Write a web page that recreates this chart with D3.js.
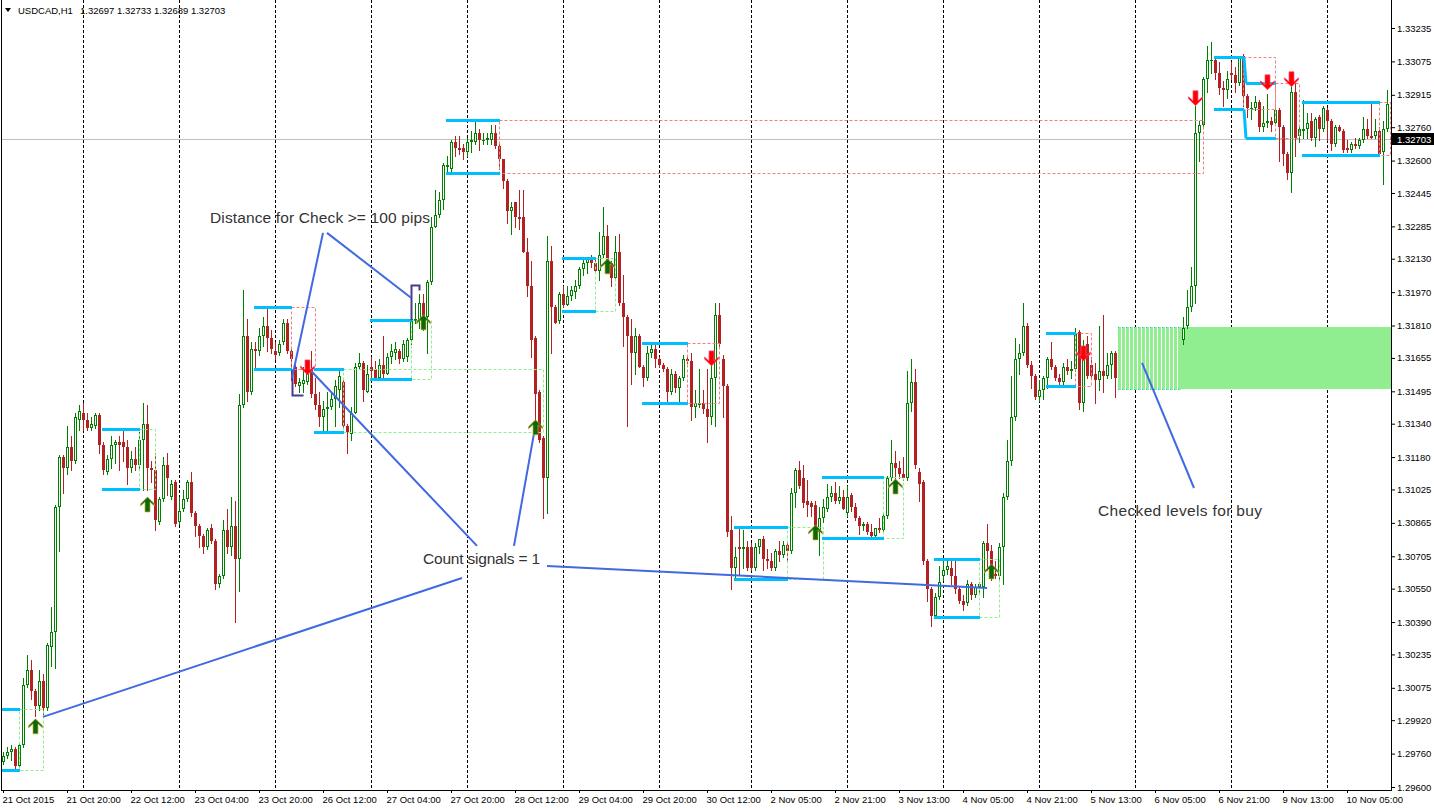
<!DOCTYPE html>
<html><head><meta charset="utf-8">
<script src="https://cdn.jsdelivr.net/npm/d3@7"></script>
<style>
html,body{margin:0;padding:0;background:#fff;}
svg{display:block;}
text{font-family:"Liberation Sans",Arial,sans-serif;}
</style></head><body>
<svg id="chart" width="1434" height="808"></svg>
<script>
// ---------------- DATA ----------------
const symbolTitle = "USDCAD,H1";
const lastQuote = [1.32697, 1.32733, 1.32689, 1.32703]; // O H L C of the current bar
// hourly candles [open, high, low, close], bar 0 = 21 Oct 2015 04:00
const ohlc = [
[1.2972,1.2977,1.2971,1.2975],[1.2975,1.2979,1.2974,1.2977],[1.2977,1.2980,1.2973,1.2978],[1.2978,1.2979,1.2969,1.2970],
[1.2970,1.2981,1.2969,1.2980],[1.2980,1.3012,1.2979,1.3009],[1.3009,1.3023,1.3008,1.3016],[1.3016,1.3021,1.3002,1.3006],
[1.3006,1.3007,1.2994,1.2999],[1.2999,1.3016,1.2997,1.3011],[1.3011,1.3014,1.2995,1.2998],[1.2998,1.3029,1.2997,1.3028],
[1.3027,1.3046,1.3018,1.3034],[1.3034,1.3095,1.3017,1.3094],[1.3094,1.3119,1.3073,1.3118],[1.3118,1.3119,1.3101,1.3113],
[1.3113,1.3133,1.3110,1.3123],[1.3123,1.3128,1.3112,1.3116],[1.3116,1.3139,1.3115,1.3137],[1.3136,1.3143,1.3131,1.3140],
[1.3139,1.3144,1.3131,1.3136],[1.3136,1.3139,1.3131,1.3132],[1.3132,1.3137,1.3131,1.3134],[1.3133,1.3139,1.3132,1.3138],
[1.3138,1.3139,1.3120,1.3124],[1.3124,1.3125,1.3110,1.3112],[1.3111,1.3119,1.3110,1.3117],[1.3117,1.3128,1.3113,1.3124],
[1.3124,1.3126,1.3115,1.3125],[1.3125,1.3128,1.3112,1.3124],[1.3125,1.3131,1.3116,1.3123],[1.3123,1.3126,1.3105,1.3113],
[1.3113,1.3121,1.3111,1.3117],[1.3117,1.3123,1.3112,1.3114],[1.3114,1.3130,1.3112,1.3126],[1.3126,1.3144,1.3102,1.3134],
[1.3134,1.3143,1.3102,1.3113],[1.3113,1.3116,1.3106,1.3112],[1.3112,1.3120,1.3083,1.3088],[1.3087,1.3099,1.3086,1.3098],
[1.3098,1.3118,1.3097,1.3114],[1.3114,1.3120,1.3100,1.3108],[1.3099,1.3107,1.3098,1.3105],[1.3106,1.3107,1.3085,1.3086],
[1.3087,1.3099,1.3086,1.3092],[1.3093,1.3102,1.3092,1.3098],[1.3098,1.3107,1.3097,1.3106],[1.3106,1.3111,1.3090,1.3091],
[1.3091,1.3092,1.3080,1.3085],[1.3085,1.3086,1.3075,1.3080],[1.3080,1.3081,1.3072,1.3075],[1.3075,1.3084,1.3074,1.3083],
[1.3084,1.3086,1.3077,1.3078],[1.3078,1.3079,1.3055,1.3057],[1.3057,1.3062,1.3056,1.3061],[1.3061,1.3088,1.3060,1.3083],
[1.3083,1.3093,1.3072,1.3075],[1.3075,1.3099,1.3071,1.3085],[1.3085,1.3097,1.3039,1.3069],[1.3069,1.3148,1.3054,1.3143],
[1.3143,1.3198,1.3142,1.3176],[1.3176,1.3184,1.3145,1.3149],[1.3149,1.3173,1.3148,1.3170],[1.3170,1.3173,1.3161,1.3169],
[1.3169,1.3180,1.3167,1.3176],[1.3176,1.3185,1.3171,1.3181],[1.3181,1.3190,1.3169,1.3175],[1.3175,1.3179,1.3168,1.3170],
[1.3169,1.3173,1.3165,1.3167],[1.3168,1.3174,1.3167,1.3172],[1.3173,1.3184,1.3172,1.3182],[1.3182,1.3184,1.3168,1.3169],
[1.3169,1.3170,1.3155,1.3165],[1.3161,1.3162,1.3152,1.3153],[1.3152,1.3156,1.3149,1.3154],[1.3153,1.3161,1.3149,1.3155],
[1.3154,1.3162,1.3153,1.3158],[1.3160,1.3169,1.3147,1.3148],[1.3148,1.3156,1.3141,1.3143],[1.3143,1.3149,1.3133,1.3137],
[1.3137,1.3145,1.3130,1.3141],[1.3141,1.3149,1.3130,1.3142],[1.3142,1.3149,1.3141,1.3146],[1.3146,1.3155,1.3133,1.3152],
[1.3150,1.3160,1.3142,1.3157],[1.3154,1.3155,1.3132,1.3133],[1.3133,1.3134,1.3120,1.3130],[1.3129,1.3142,1.3126,1.3139],
[1.3139,1.3163,1.3139,1.3161],[1.3161,1.3168,1.3160,1.3163],[1.3163,1.3164,1.3145,1.3150],[1.3149,1.3162,1.3149,1.3158],
[1.3161,1.3166,1.3156,1.3159],[1.3160,1.3164,1.3155,1.3156],[1.3156,1.3165,1.3156,1.3162],[1.3162,1.3176,1.3156,1.3158],
[1.3158,1.3168,1.3158,1.3166],[1.3166,1.3172,1.3163,1.3169],[1.3168,1.3173,1.3165,1.3170],[1.3169,1.3170,1.3163,1.3165],
[1.3165,1.3174,1.3164,1.3172],[1.3166,1.3175,1.3164,1.3174],[1.3174,1.3185,1.3172,1.3184],[1.3183,1.3192,1.3182,1.3184],
[1.3183,1.3196,1.3180,1.3192],[1.3192,1.3196,1.3179,1.3185],[1.3185,1.3203,1.3168,1.3202],[1.3202,1.3233,1.3201,1.3228],
[1.3228,1.3246,1.3228,1.3234],[1.3234,1.3245,1.3233,1.3241],[1.3241,1.3259,1.3237,1.3258],[1.3257,1.3262,1.3254,1.3258],
[1.3256,1.3270,1.3255,1.3269],[1.3269,1.3272,1.3262,1.3266],[1.3266,1.3272,1.3263,1.3265],[1.3266,1.3268,1.3261,1.3264],
[1.3264,1.3271,1.3262,1.3269],[1.3269,1.3274,1.3264,1.3270],[1.3269,1.3279,1.3268,1.3273],[1.3273,1.3275,1.3265,1.3270],
[1.3270,1.3273,1.3268,1.3270],[1.3270,1.3273,1.3268,1.3271],[1.3270,1.3277,1.3268,1.3273],[1.3273,1.3277,1.3266,1.3267],
[1.3267,1.3268,1.3256,1.3261],[1.3261,1.3261,1.3247,1.3250],[1.3250,1.3251,1.3230,1.3236],[1.3236,1.3240,1.3225,1.3238],
[1.3240,1.3240,1.3228,1.3233],[1.3233,1.3246,1.3227,1.3232],[1.3233,1.3246,1.3216,1.3216],[1.3216,1.3223,1.3195,1.3200],
[1.3200,1.3212,1.3166,1.3174],[1.3175,1.3176,1.3133,1.3148],[1.3149,1.3150,1.3125,1.3126],[1.3127,1.3128,1.3089,1.3108],
[1.3108,1.3224,1.3091,1.3212],[1.3212,1.3219,1.3168,1.3190],[1.3190,1.3191,1.3182,1.3182],[1.3183,1.3197,1.3182,1.3196],
[1.3196,1.3200,1.3190,1.3191],[1.3191,1.3200,1.3191,1.3195],[1.3195,1.3200,1.3193,1.3198],[1.3197,1.3203,1.3194,1.3200],
[1.3200,1.3209,1.3199,1.3208],[1.3208,1.3213,1.3205,1.3211],[1.3211,1.3214,1.3206,1.3214],[1.3214,1.3215,1.3209,1.3211],
[1.3211,1.3214,1.3206,1.3207],[1.3207,1.3226,1.3203,1.3215],[1.3215,1.3238,1.3214,1.3224],[1.3224,1.3229,1.3209,1.3211],
[1.3211,1.3212,1.3200,1.3204],[1.3204,1.3224,1.3203,1.3216],[1.3216,1.3225,1.3191,1.3192],[1.3192,1.3205,1.3171,1.3185],
[1.3185,1.3186,1.3133,1.3176],[1.3176,1.3184,1.3153,1.3168],[1.3168,1.3180,1.3158,1.3176],[1.3176,1.3177,1.3161,1.3161],
[1.3161,1.3162,1.3152,1.3156],[1.3156,1.3171,1.3155,1.3168],[1.3168,1.3173,1.3166,1.3170],[1.3170,1.3172,1.3161,1.3165],
[1.3165,1.3166,1.3161,1.3162],[1.3162,1.3163,1.3159,1.3160],[1.3160,1.3161,1.3144,1.3149],[1.3149,1.3160,1.3148,1.3158],
[1.3158,1.3159,1.3149,1.3151],[1.3151,1.3157,1.3144,1.3156],[1.3156,1.3167,1.3155,1.3165],[1.3165,1.3167,1.3163,1.3164],
[1.3164,1.3168,1.3136,1.3142],[1.3142,1.3150,1.3137,1.3144],[1.3143,1.3160,1.3142,1.3144],[1.3144,1.3150,1.3139,1.3141],
[1.3141,1.3160,1.3125,1.3137],[1.3137,1.3163,1.3134,1.3156],[1.3156,1.3192,1.3133,1.3186],[1.3186,1.3192,1.3171,1.3172],
[1.3165,1.3167,1.3137,1.3152],[1.3152,1.3153,1.3080,1.3082],[1.3083,1.3090,1.3055,1.3065],[1.3065,1.3075,1.3059,1.3070],
[1.3075,1.3084,1.3062,1.3074],[1.3074,1.3083,1.3065,1.3075],[1.3075,1.3078,1.3064,1.3065],[1.3075,1.3077,1.3064,1.3065],
[1.3065,1.3077,1.3064,1.3075],[1.3075,1.3079,1.3072,1.3079],[1.3079,1.3080,1.3064,1.3069],[1.3069,1.3074,1.3065,1.3068],
[1.3068,1.3072,1.3064,1.3065],[1.3065,1.3074,1.3064,1.3073],[1.3073,1.3078,1.3068,1.3071],[1.3071,1.3078,1.3070,1.3076],
[1.3076,1.3077,1.3068,1.3073],[1.3073,1.3103,1.3072,1.3101],[1.3101,1.3113,1.3094,1.3112],[1.3112,1.3116,1.3103,1.3104],
[1.3108,1.3114,1.3094,1.3096],[1.3097,1.3107,1.3090,1.3095],[1.3096,1.3097,1.3090,1.3094],[1.3095,1.3097,1.3080,1.3085],
[1.3082,1.3094,1.3071,1.3089],[1.3089,1.3098,1.3087,1.3094],[1.3093,1.3105,1.3092,1.3099],[1.3099,1.3104,1.3097,1.3101],
[1.3101,1.3106,1.3096,1.3097],[1.3097,1.3104,1.3096,1.3099],[1.3099,1.3102,1.3093,1.3093],[1.3091,1.3104,1.3090,1.3099],
[1.3100,1.3101,1.3092,1.3094],[1.3094,1.3096,1.3088,1.3089],[1.3089,1.3090,1.3081,1.3085],[1.3085,1.3087,1.3083,1.3086],
[1.3086,1.3087,1.3081,1.3082],[1.3082,1.3086,1.3079,1.3080],[1.3080,1.3084,1.3079,1.3084],[1.3084,1.3089,1.3082,1.3083],
[1.3083,1.3091,1.3082,1.3090],[1.3090,1.3109,1.3089,1.3108],[1.3108,1.3126,1.3107,1.3115],[1.3115,1.3121,1.3101,1.3113],
[1.3113,1.3116,1.3108,1.3110],[1.3110,1.3118,1.3107,1.3108],[1.3108,1.3159,1.3107,1.3144],[1.3144,1.3165,1.3140,1.3154],
[1.3154,1.3160,1.3113,1.3114],[1.3111,1.3113,1.3097,1.3105],[1.3106,1.3107,1.3067,1.3068],[1.3068,1.3069,1.3049,1.3055],
[1.3055,1.3056,1.3037,1.3042],[1.3042,1.3053,1.3041,1.3051],[1.3051,1.3066,1.3050,1.3058],[1.3061,1.3069,1.3059,1.3064],
[1.3064,1.3069,1.3062,1.3066],[1.3065,1.3068,1.3057,1.3061],[1.3061,1.3068,1.3053,1.3055],[1.3055,1.3056,1.3048,1.3049],
[1.3049,1.3052,1.3045,1.3047],[1.3048,1.3059,1.3047,1.3057],[1.3057,1.3058,1.3050,1.3052],[1.3052,1.3057,1.3051,1.3056],
[1.3056,1.3058,1.3053,1.3057],[1.3056,1.3078,1.3051,1.3077],[1.3077,1.3086,1.3064,1.3073],[1.3073,1.3076,1.3059,1.3064],
[1.3062,1.3068,1.3060,1.3061],[1.3061,1.3077,1.3059,1.3075],[1.3075,1.3101,1.3057,1.3099],[1.3099,1.3126,1.3098,1.3116],
[1.3116,1.3157,1.3114,1.3137],[1.3137,1.3175,1.3136,1.3165],[1.3165,1.3172,1.3158,1.3168],[1.3168,1.3192,1.3167,1.3181],
[1.3181,1.3182,1.3161,1.3162],[1.3162,1.3164,1.3151,1.3157],[1.3157,1.3158,1.3146,1.3147],[1.3147,1.3155,1.3145,1.3150],
[1.3150,1.3157,1.3146,1.3156],[1.3156,1.3166,1.3151,1.3165],[1.3165,1.3173,1.3160,1.3161],[1.3161,1.3162,1.3155,1.3156],
[1.3156,1.3158,1.3153,1.3154],[1.3154,1.3163,1.3153,1.3161],[1.3161,1.3165,1.3158,1.3159],[1.3159,1.3164,1.3156,1.3160],
[1.3160,1.3180,1.3159,1.3177],[1.3178,1.3179,1.3141,1.3144],[1.3144,1.3174,1.3140,1.3165],[1.3172,1.3176,1.3156,1.3157],
[1.3162,1.3166,1.3156,1.3157],[1.3158,1.3163,1.3144,1.3155],[1.3155,1.3181,1.3150,1.3159],[1.3159,1.3186,1.3149,1.3157],
[1.3157,1.3168,1.3156,1.3162],[1.3162,1.3169,1.3156,1.3168],[1.3168,1.3169,1.3147,1.3156],[1.3156,1.3163,1.3151,1.3160],
[1.3160,1.3166,1.3155,1.3158],[1.3158,1.3164,1.3152,1.3162],[1.3162,1.3170,1.3159,1.3167],[1.3167,1.3172,1.3160,1.3163],
[1.3163,1.3168,1.3157,1.3165],[1.3165,1.3174,1.3162,1.3170],[1.3170,1.3175,1.3164,1.3168],[1.3168,1.3173,1.3161,1.3171],
[1.3171,1.3177,1.3166,1.3169],[1.3169,1.3174,1.3163,1.3172],[1.3172,1.3178,1.3167,1.3170],[1.3170,1.3176,1.3165,1.3174],
[1.3174,1.3178,1.3168,1.3172],[1.3172,1.3177,1.3166,1.3175],[1.3175,1.3179,1.3168,1.3176],[1.3174,1.3185,1.3172,1.3180],
[1.3181,1.3198,1.3180,1.3190],[1.3190,1.3209,1.3188,1.3200],[1.3200,1.3286,1.3192,1.3273],[1.3273,1.3279,1.3260,1.3277],
[1.3277,1.3300,1.3276,1.3299],[1.3299,1.3315,1.3293,1.3308],[1.3308,1.3317,1.3302,1.3308],[1.3308,1.3310,1.3299,1.3302],
[1.3302,1.3307,1.3292,1.3295],[1.3295,1.3298,1.3286,1.3294],[1.3294,1.3303,1.3290,1.3299],[1.3302,1.3307,1.3299,1.3301],
[1.3301,1.3305,1.3293,1.3297],[1.3297,1.3310,1.3296,1.3310],[1.3310,1.3311,1.3286,1.3291],[1.3291,1.3292,1.3281,1.3285],
[1.3285,1.3288,1.3280,1.3285],[1.3285,1.3291,1.3284,1.3288],[1.3288,1.3289,1.3274,1.3276],[1.3276,1.3286,1.3274,1.3278],
[1.3278,1.3292,1.3276,1.3279],[1.3279,1.3281,1.3274,1.3277],[1.3278,1.3285,1.3277,1.3284],[1.3284,1.3285,1.3260,1.3276],
[1.3276,1.3277,1.3258,1.3263],[1.3263,1.3264,1.3251,1.3254],[1.3254,1.3297,1.3245,1.3293],[1.3293,1.3297,1.3262,1.3271],
[1.3272,1.3276,1.3269,1.3275],[1.3274,1.3289,1.3271,1.3275],[1.3275,1.3283,1.3271,1.3278],[1.3279,1.3283,1.3270,1.3271],
[1.3271,1.3281,1.3267,1.3280],[1.3281,1.3282,1.3270,1.3275],[1.3275,1.3286,1.3274,1.3285],[1.3284,1.3285,1.3270,1.3279],
[1.3279,1.3280,1.3265,1.3268],[1.3268,1.3277,1.3267,1.3276],[1.3276,1.3277,1.3274,1.3274],[1.3274,1.3275,1.3264,1.3265],
[1.3266,1.3270,1.3264,1.3265],[1.3265,1.3269,1.3264,1.3268],[1.3268,1.3271,1.3266,1.3267],[1.3267,1.3271,1.3266,1.3270],
[1.3270,1.3281,1.3269,1.3275],[1.3275,1.3280,1.3271,1.3272],[1.3272,1.3287,1.3271,1.3271],[1.3272,1.3280,1.3271,1.3274],
[1.3274,1.3276,1.3262,1.3263],[1.3264,1.3279,1.3249,1.3275],[1.3275,1.3294,1.3274,1.3287],[1.32697,1.32733,1.32689,1.32703]
];
const priceTicks = [1.33235,1.33075,1.32915,1.32760,1.32600,1.32445,1.32285,1.32130,1.31970,1.31810,1.31655,1.31495,
  1.31340,1.31180,1.31025,1.30865,1.30705,1.30550,1.30390,1.30235,1.30075,1.29920,1.29760,1.29600];
const timeLabels = ["21 Oct 2015","21 Oct 20:00","22 Oct 12:00","23 Oct 04:00","23 Oct 20:00","26 Oct 12:00","27 Oct 04:00",
  "27 Oct 20:00","28 Oct 12:00","29 Oct 04:00","29 Oct 20:00","30 Oct 12:00","2 Nov 05:00","2 Nov 21:00","3 Nov 13:00",
  "4 Nov 05:00","4 Nov 21:00","5 Nov 13:00","6 Nov 05:00","6 Nov 21:00","9 Nov 13:00","10 Nov 05:00"];
const timeLabelBars = [0,16,32,48,64,80,96,112,128,144,160,176,192,208,224,240,256,272,288,304,320,336];
const daySeparatorBars = [20,44,68,92,116,140,164,187,211,235,259,283,307,331];
// signal arrows [bar, price]
const buySignals = [[8,1.29888],[36,1.30951],[105,1.31823],[133,1.31320],[151,1.32091],[203,1.30817],[223,1.31037],[247,1.30630]];
const sellSignals = [[76,1.31612],[177,1.31655],[270,1.31679],[298,1.32901],[316,1.32977],[322,1.32992]];
// checked ranges
const rangeFrom = [0,25,63,78,92,111,140,160,183,205,233,261,303,311,325];
const rangeTo   = [4,34,72,85,102,124,148,171,196,220,244,268,310,318,344];
const rangeExt  = [10,38,78,135,107,300,153,179,205,225,249,272,318,324,347];
const rangeHigh = [1.29974,1.31315,1.31899,1.31602,1.31837,1.32795,1.32134,1.31727,1.30846,1.31085,1.30692,1.31775,1.33097,1.32972,1.32881];
const rangeLow  = [1.29682,1.31028,1.31602,1.31301,1.31555,1.32541,1.31880,1.31440,1.30597,1.30793,1.30415,1.31521,1.32848,1.32709,1.32628];
const rangeType = ["buy","buy","sell","buy","buy","sell","buy","sell","buy","buy","buy","sell","sell","sell","sell"];
const rangeLinks = [[12,13]];
// checked buy zone
const zoneHatchBars = [279,294];
const zoneSolidFrom = 294.5;
const zoneHigh = 1.31804, zoneLow = 1.31506;
// annotation texts
const noteBars = [51.75, 105, 273.75];
const notePrices = [1.32302, 1.30668, 1.30898];
const noteTexts = ["Distance for Check >= 100 pips", "Count signals = 1", "Checked levels for buy"];
const noteWidths = [220, 117, 164];
// annotation trend lines [bar1, price1, bar2, price2]
const noteLines = [
  [10,1.29936,114.75,1.30601],
  [136,1.30659,246,1.30553],
  [76.75,1.31598,118.5,1.30755],
  [127.75,1.30755,133,1.31320],
  [80,1.32254,72.25,1.31559],
  [81,1.32254,102,1.31943],
  [284.75,1.31631,297.75,1.31032]
];
// distance brackets: points [bar, price]
const brackets = [
  [[72.25,1.31602],[72.25,1.31478],[75,1.31478]],
  [[102,1.31837],[102,1.32005],[104,1.32005],[104,1.31980]]
];

// ---------------- DRAW ----------------
const W = 1434, H = 808, plotRight = 1391, plotBottom = 790;
const x = d3.scaleLinear().domain([0, 347]).range([3, 1391]);
const y = d3.scaleLinear().domain([1.29600, 1.33235]).range([787, 28]);
const px = i => Math.round(x(i));
const py = p => Math.round(y(p));

const svg = d3.select("#chart");
svg.append("rect").attr("width", W).attr("height", H).attr("fill", "#fff");
svg.append("defs").append("clipPath").attr("id", "plot")
  .append("rect").attr("x", 2).attr("y", 0).attr("width", plotRight - 2).attr("height", plotBottom);
const g = svg.append("g").attr("clip-path", "url(#plot)");

// day separators
g.append("g").selectAll("line").data(daySeparatorBars).join("line")
  .attr("x1", d => px(d) + 0.5).attr("x2", d => px(d) + 0.5)
  .attr("y1", 0).attr("y2", plotBottom)
  .attr("stroke", "#000").attr("stroke-width", 1).attr("stroke-dasharray", "3,2");

// bid line
g.append("line").attr("x1", 0).attr("x2", plotRight).attr("y1", py(lastQuote[3]) + 0.5).attr("y2", py(lastQuote[3]) + 0.5)
  .attr("stroke", "#c0c0c0").attr("stroke-width", 1);

// solid buy zone
g.append("rect").attr("x", x(zoneSolidFrom)).attr("y", py(zoneHigh))
  .attr("width", plotRight - x(zoneSolidFrom)).attr("height", py(zoneLow) - py(zoneHigh))
  .attr("fill", "#90ee90");

// candles
const BULL = "#008000", BEAR = "#b22222";
const cg = g.append("g").attr("shape-rendering", "crispEdges");
ohlc.forEach((d, i) => {
  const [o, h, l, c] = d;
  const cx = px(i);
  const bull = c >= o;
  const col = bull ? BULL : BEAR;
  cg.append("line").attr("x1", cx + 0.5).attr("x2", cx + 0.5)
    .attr("y1", py(h)).attr("y2", py(l) + 1).attr("stroke", col).attr("stroke-width", 1);
  let t = py(Math.max(o, c)), b = py(Math.min(o, c));
  if (b - t < 1) b = t + 1;
  if (bull && b - t >= 3) {
    cg.append("rect").attr("x", cx - 0.5).attr("y", t + 0.5).attr("width", 2).attr("height", b - t - 1)
      .attr("fill", "#fff").attr("stroke", col).attr("stroke-width", 1);
  } else {
    cg.append("rect").attr("x", cx - 1).attr("y", t).attr("width", 3).attr("height", Math.max(1, b - t))
      .attr("fill", col);
  }
});

// hatched part of the buy zone
const hz = g.append("g").attr("shape-rendering", "crispEdges");
hz.append("rect").attr("x", px(zoneHatchBars[0]) - 1).attr("y", py(zoneHigh))
  .attr("width", px(zoneHatchBars[1]) + 2 - (px(zoneHatchBars[0]) - 1)).attr("height", py(zoneLow) - py(zoneHigh) + 1)
  .attr("fill", "#fff");
hz.selectAll("rect.st").data(d3.range(zoneHatchBars[0], zoneHatchBars[1] + 1)).join("rect").attr("class", "st")
  .attr("x", d => px(d) - 1).attr("y", py(zoneHigh)).attr("width", 3).attr("height", py(zoneLow) - py(zoneHigh) + 1)
  .attr("fill", "#90ee90");
[zoneHigh, zoneLow].forEach(p => {
  hz.append("line").attr("x1", px(zoneHatchBars[0]) - 1).attr("x2", x(zoneSolidFrom))
    .attr("y1", py(p) + 0.5).attr("y2", py(p) + 0.5)
    .attr("stroke", "#00bfff").attr("stroke-width", 1).attr("stroke-dasharray", "1,3");
});

// range extension dashed boxes
const rg = g.append("g");
rangeFrom.forEach((f, k) => {
  const x1 = px(rangeTo[k]) + 0.5, x2 = Math.min(px(rangeExt[k]) + 0.5, plotRight - 0.5);
  const y1 = py(rangeHigh[k]) + 0.5, y2 = py(rangeLow[k]) + 0.5;
  rg.append("rect").attr("x", x1).attr("y", y1).attr("width", x2 - x1).attr("height", y2 - y1)
    .attr("fill", "none").attr("stroke", rangeType[k] === "buy" ? "#90ee90" : "#f08080")
    .attr("stroke-width", 1).attr("stroke-dasharray", "3,2");
});
// range levels (thick deep-sky-blue)
rangeFrom.forEach((f, k) => {
  [rangeHigh[k], rangeLow[k]].forEach(p => {
    rg.append("line").attr("x1", px(f) - 1).attr("x2", px(rangeTo[k]) + 1)
      .attr("y1", py(p) + 0.5).attr("y2", py(p) + 0.5)
      .attr("stroke", "#00bfff").attr("stroke-width", 3);
  });
});
rangeLinks.forEach(([a, b]) => {
  [[rangeHigh[a], rangeHigh[b]], [rangeLow[a], rangeLow[b]]].forEach(([p1, p2]) => {
    rg.append("line").attr("x1", px(rangeTo[a]) + 1).attr("x2", px(rangeFrom[b]) - 1)
      .attr("y1", py(p1) + 0.5).attr("y2", py(p2) + 0.5)
      .attr("stroke", "#00bfff").attr("stroke-width", 3);
  });
});

// brackets
const bl = d3.line().x(d => px(d[0]) + 0.5).y(d => py(d[1]) + 0.5);
g.append("g").selectAll("path").data(brackets).join("path")
  .attr("d", bl).attr("fill", "none").attr("stroke", "#483d8b").attr("stroke-width", 2);

// annotation lines
g.append("g").selectAll("line").data(noteLines).join("line")
  .attr("x1", d => x(d[0])).attr("y1", d => y(d[1])).attr("x2", d => x(d[2])).attr("y2", d => y(d[3]))
  .attr("stroke", "#4169e1").attr("stroke-width", 2);

// arrows (thick wingdings-like)
const upArrow = "M0,-8 L7,-1 L7,1 L2.5,-3 L2.5,7 L-2.5,7 L-2.5,-3 L-7,1 L-7,-1 Z";
const downArrow = "M0,8 L7,1 L7,-1 L2.5,3 L2.5,-7 L-2.5,-7 L-2.5,3 L-7,-1 L-7,1 Z";
g.append("g").selectAll("path").data(buySignals).join("path")
  .attr("d", upArrow).attr("transform", d => `translate(${px(d[0]) + 0.5},${y(d[1])})`)
  .attr("fill", "#0a6a0a").attr("stroke", "#c8a830").attr("stroke-width", 0.7);
g.append("g").selectAll("path").data(sellSignals).join("path")
  .attr("d", downArrow).attr("transform", d => `translate(${px(d[0]) + 0.5},${y(d[1])})`)
  .attr("fill", "#ff0000").attr("stroke", "#ff5080").attr("stroke-width", 0.7);

// notes
noteTexts.forEach((t, k) => {
  g.append("text").attr("x", x(noteBars[k])).attr("y", y(notePrices[k]))
    .attr("font-size", "15.5px").attr("fill", "#333").attr("textLength", noteWidths[k])
    .attr("lengthAdjust", "spacing").text(t);
});

// frame
svg.append("line").attr("x1", 1.5).attr("x2", 1.5).attr("y1", 0).attr("y2", plotBottom + 0.5).attr("stroke", "#000");
svg.append("line").attr("x1", plotRight + 0.5).attr("x2", plotRight + 0.5).attr("y1", 0).attr("y2", plotBottom + 0.5).attr("stroke", "#000");
svg.append("line").attr("x1", 1).attr("x2", plotRight + 1).attr("y1", plotBottom + 0.5).attr("y2", plotBottom + 0.5).attr("stroke", "#000");

// right price axis
const yAxis = d3.axisRight(y).tickValues(priceTicks).tickFormat(d3.format(".5f")).tickSize(4).tickPadding(2).tickSizeOuter(0);
const ya = svg.append("g").attr("transform", `translate(${plotRight},0)`).call(yAxis);
ya.select(".domain").remove();
ya.selectAll("text").attr("font-family", "Liberation Sans, Arial, sans-serif").attr("font-size", "9.5px").attr("fill", "#000");
ya.selectAll("line").attr("stroke", "#000");

// bottom time axis
const xAxis = d3.axisBottom(x).tickValues(timeLabelBars).tickFormat((d, k) => timeLabels[k]).tickSize(3).tickPadding(3).tickSizeOuter(0);
const xa = svg.append("g").attr("transform", `translate(0,${plotBottom})`).call(xAxis);
xa.select(".domain").remove();
xa.selectAll("text").attr("text-anchor", "start").attr("x", -1)
  .attr("font-family", "Liberation Sans, Arial, sans-serif").attr("font-size", "9.5px").attr("fill", "#000");
xa.selectAll("line").attr("stroke", "#000");

// bid price label
const by = py(lastQuote[3]);
svg.append("rect").attr("x", plotRight + 1).attr("y", by - 6).attr("width", W - plotRight - 1).attr("height", 12).attr("fill", "#000");
svg.append("text").attr("x", plotRight + 6).attr("y", by + 4).attr("font-size", "9.5px").attr("fill", "#fff")
  .text(d3.format(".5f")(lastQuote[3]));

// title
svg.append("path").attr("d", "M5,8 L11,8 L8,12 Z").attr("fill", "#000");
svg.append("text").attr("x", 18).attr("y", 14).attr("font-size", "9.5px").attr("fill", "#000").text(symbolTitle);
svg.append("text").attr("x", 80).attr("y", 14).attr("font-size", "9.5px").attr("fill", "#000")
  .text(lastQuote.map(d3.format(".5f")).join(" "));
</script>
</body></html>
